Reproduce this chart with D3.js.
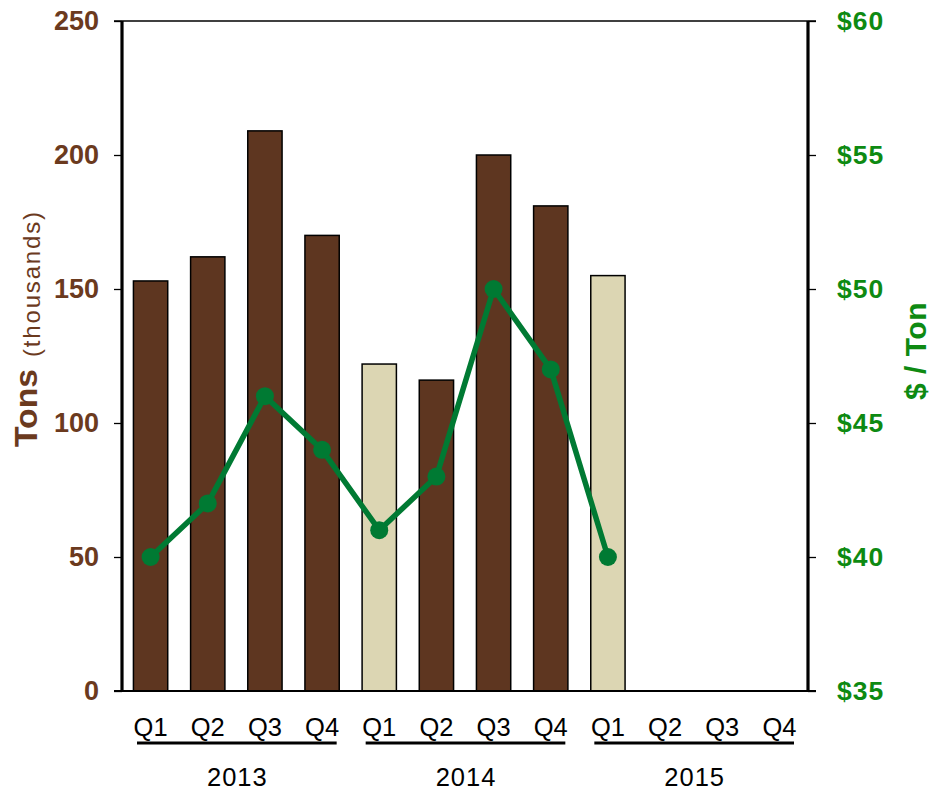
<!DOCTYPE html>
<html>
<head>
<meta charset="utf-8">
<script src="https://cdn.jsdelivr.net/npm/d3@7"></script>
<style>
  html, body { margin: 0; padding: 0; background: #fff; }
  svg { display: block; font-family: "Liberation Sans", Arial, sans-serif; }
</style>
</head>
<body>
<svg id="chart" width="934" height="791"></svg>
<script>
// ---- data ----
const years = ["2013", "2014", "2015"];
const quarters = ["Q1", "Q2", "Q3", "Q4"];
const tons = [153, 162, 209, 170, 122, 116, 200, 181, 155, null, null, null];   // thousands
const barKind = ["full", "full", "full", "full", "partial", "full", "full", "full", "partial", "full", "full", "full"];
const price = [40, 42, 46, 44, 41, 43, 50, 47, 40];                                // $ / ton
const leftTicks = [0, 50, 100, 150, 200, 250];
const rightTicks = [35, 40, 45, 50, 55, 60];

// ---- layout ----
const L = 122, R = 808, T = 21, B = 691;
const brown = "#5E3620", beige = "#DCD6B3", green = "#007A33";
const brownText = "#6B3A1E", greenText = "#0E8A12";

const svg = d3.select("#chart");
const keys = [];
years.forEach(y => quarters.forEach(q => keys.push(y + "-" + q)));

const x = d3.scaleBand().domain(keys).range([L, R]).paddingInner(0.4).paddingOuter(0.2);
const yL = d3.scaleLinear().domain([0, 250]).range([B, T]);
const yR = d3.scaleLinear().domain([35, 60]).range([B, T]);
const fill = d3.scaleOrdinal().domain(["full", "partial"]).range([brown, beige]);

// bars
svg.append("g").selectAll("rect")
  .data(keys.map((k, i) => ({ k, v: tons[i], kind: barKind[i] })).filter(d => d.v != null))
  .join("rect")
  .attr("x", d => x(d.k))
  .attr("y", d => yL(d.v))
  .attr("width", x.bandwidth())
  .attr("height", d => yL(0) - yL(d.v))
  .attr("fill", d => fill(d.kind))
  .attr("stroke", "#000")
  .attr("stroke-width", 1.5);

// frame lines
svg.append("line").attr("x1", L - 8).attr("x2", R + 8).attr("y1", T).attr("y2", T)
  .attr("stroke", "#000").attr("stroke-width", 1.3);
svg.append("line").attr("x1", L - 8).attr("x2", R + 8).attr("y1", B).attr("y2", B)
  .attr("stroke", "#000").attr("stroke-width", 2);

// left axis
const axL = d3.axisLeft(yL).tickValues(leftTicks).tickSize(8).tickPadding(15);
const gL = svg.append("g").attr("transform", `translate(${L},0)`).call(axL);
gL.select(".domain").remove();
gL.selectAll(".tick line").attr("stroke", "#000").attr("stroke-width", 1.3);
gL.selectAll(".tick text").attr("fill", brownText).attr("font-size", 27).attr("font-weight", "bold")
  .attr("font-family", "Liberation Sans, Arial, sans-serif");
svg.append("line").attr("x1", L).attr("x2", L).attr("y1", T).attr("y2", B + 1)
  .attr("stroke", "#000").attr("stroke-width", 3.2);

// right axis
const axR = d3.axisRight(yR).tickValues(rightTicks).tickSize(8).tickPadding(21).tickFormat(d => "$" + d);
const gR = svg.append("g").attr("transform", `translate(${R},0)`).call(axR);
gR.select(".domain").remove();
gR.selectAll(".tick line").attr("stroke", "#000").attr("stroke-width", 1.3);
gR.selectAll(".tick text").attr("fill", greenText).attr("font-size", 26.5).attr("font-weight", "bold")
  .attr("letter-spacing", 1)
  .attr("font-family", "Liberation Sans, Arial, sans-serif");
svg.append("line").attr("x1", R).attr("x2", R).attr("y1", T).attr("y2", B + 1)
  .attr("stroke", "#000").attr("stroke-width", 3.2);

// price line
const pts = price.map((v, i) => ({ k: keys[i], v }));
const line = d3.line().x(d => x(d.k) + x.bandwidth() / 2).y(d => yR(d.v));
svg.append("path").datum(pts).attr("d", line)
  .attr("fill", "none").attr("stroke", green).attr("stroke-width", 5.5).attr("stroke-linejoin", "round");
svg.append("g").selectAll("circle").data(pts).join("circle")
  .attr("cx", d => x(d.k) + x.bandwidth() / 2).attr("cy", d => yR(d.v)).attr("r", 9).attr("fill", green);

// quarter labels
svg.append("g").selectAll("text").data(keys).join("text")
  .attr("x", d => x(d) + x.bandwidth() / 2).attr("y", 735.5)
  .attr("text-anchor", "middle").attr("font-size", 25.5).attr("fill", "#000")
  .text(d => d.split("-")[1]);

// year underlines and labels
const step = x.step();
years.forEach((yr, gi) => {
  const x0 = L + gi * 4 * step, x1 = x0 + 4 * step;
  svg.append("line").attr("x1", x0 + 15).attr("x2", x1 - 14).attr("y1", 743).attr("y2", 743)
    .attr("stroke", "#000").attr("stroke-width", 3.2);
  svg.append("text").attr("x", (x0 + x1) / 2 + 1).attr("y", 786)
    .attr("text-anchor", "middle").attr("font-size", 25.5).attr("letter-spacing", 1).attr("fill", "#000").text(yr);
});

// left title
svg.append("text").attr("transform", "translate(37,447) rotate(-90)").attr("fill", brownText)
  .attr("font-size", 31).attr("font-weight", "bold").attr("textLength", 78).attr("lengthAdjust", "spacingAndGlyphs")
  .text("Tons");
svg.append("text").attr("transform", "translate(40,357) rotate(-90)").attr("fill", brownText)
  .attr("font-size", 24).attr("textLength", 145).attr("lengthAdjust", "spacing")
  .text("(thousands)");

// right title
svg.append("text").attr("transform", "translate(926,351) rotate(-90)")
  .attr("text-anchor", "middle").attr("font-size", 30).attr("font-weight", "bold")
  .attr("letter-spacing", 0.5)
  .attr("fill", greenText).text("$ / Ton");
</script>
</body>
</html>
